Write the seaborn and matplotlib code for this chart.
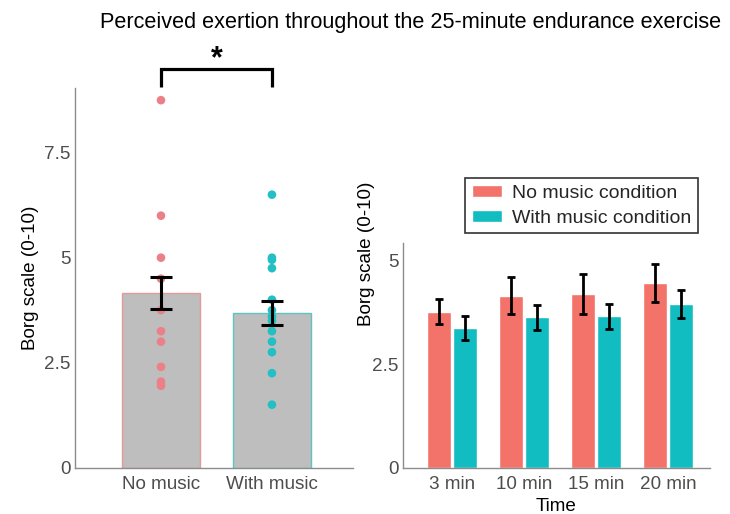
import numpy as np
import pandas as pd
import matplotlib
matplotlib.use("Agg")
import matplotlib.pyplot as plt
import seaborn as sns

# ---- overall condition means (left panel) ----
conditions = ["No music", "With music"]
overall_mean = [4.17, 3.68]
overall_sem = [0.38, 0.28]

# individual participant ratings
no_music_points = [8.75, 6.0, 5.0, 4.5, 3.75, 3.25, 3.0, 2.4, 2.05, 1.95]
with_music_points = [6.5, 5.0, 4.95, 4.75, 4.0, 3.75, 3.6, 3.5, 3.25, 3.0, 2.75, 2.25, 1.5]

# ---- ratings over time (right panel) ----
time_points = ["3 min", "10 min", "15 min", "20 min"]
no_music_time = [3.77, 4.15, 4.20, 4.45]
no_music_time_sem = [0.31, 0.45, 0.48, 0.46]
with_music_time = [3.37, 3.63, 3.66, 3.95]
with_music_time_sem = [0.29, 0.30, 0.30, 0.33]
legend_labels = ["No music condition", "With music condition"]

RED = "#F3736B"
CYAN = "#12BDC2"
DOT_RED = "#EC8088"
DOT_CYAN = "#22BFC4"
GRAY_TXT = "#4D4D4D"
SPINE = "#8C8C8C"

sns.set_theme(style="white")
plt.rcParams["font.family"] = ["Liberation Sans", "DejaVu Sans"]

fig = plt.figure(figsize=(7.3, 5.14), dpi=100)
ax1 = fig.add_axes([0.1027, 0.0901, 0.3808, 0.7387])
ax2 = fig.add_axes([0.552, 0.0901, 0.4205, 0.4366])

FS = 13.6

def style_axes(ax):
    for side in ["top", "right"]:
        ax.spines[side].set_visible(False)
    for side in ["left", "bottom"]:
        ax.spines[side].set_color(SPINE)
        ax.spines[side].set_linewidth(1.0)
    ax.tick_params(axis="both", length=0, labelsize=FS, labelcolor=GRAY_TXT)
    ax.tick_params(axis="y", pad=3)
    ax.tick_params(axis="x", pad=6)

# ---- left panel ----
df_overall = pd.DataFrame({"condition": conditions, "mean": overall_mean})
sns.barplot(data=df_overall, x="condition", y="mean", order=conditions,
            color="#BEBEBE", saturation=1, width=0.70, errorbar=None, ax=ax1)
for bar, ec in zip(ax1.patches, ["#E39A9A", "#5CC4C4"]):
    bar.set_edgecolor(ec)
    bar.set_linewidth(1.0)

df_points = pd.DataFrame({
    "condition": ["No music"] * len(no_music_points) + ["With music"] * len(with_music_points),
    "rating": no_music_points + with_music_points,
})
sns.stripplot(data=df_points, x="condition", y="rating", order=conditions,
              hue="condition", palette={"No music": DOT_RED, "With music": DOT_CYAN},
              jitter=False, size=6.2, linewidth=0, legend=False, zorder=3, ax=ax1)

ax1.errorbar([0, 1], overall_mean, yerr=overall_sem, fmt="none", ecolor="black",
             elinewidth=2.2, capsize=8, capthick=2.2, zorder=4)

ax1.set_xlim(-0.775, 1.73)
ax1.set_ylim(0, 9.04)
ax1.set_yticks([0, 2.5, 5, 7.5])
ax1.set_yticklabels(["0", "2.5", "5", "7.5"])
ax1.set_xlabel("")
ax1.set_ylabel("Borg scale (0-10)", fontsize=FS, color="black")
ax1.yaxis.set_label_coords(-0.13, 0.5)
style_axes(ax1)

# significance bracket
ax1.plot([0, 0, 1, 1], [9.07, 9.49, 9.49, 9.07], color="black", lw=2.3,
         clip_on=False, solid_joinstyle="miter", solid_capstyle="butt")
ax1.text(0.5, 9.72, "*", ha="center", va="center", fontsize=22,
         fontweight="bold", color="black", clip_on=False)

# ---- right panel ----
df_time = pd.DataFrame({
    "time": time_points * 2,
    "rating": no_music_time + with_music_time,
    "condition": [legend_labels[0]] * 4 + [legend_labels[1]] * 4,
})
sns.barplot(data=df_time, x="time", y="rating", hue="condition", order=time_points,
            hue_order=legend_labels, palette=[RED, CYAN], saturation=1,
            width=0.72, gap=0.1, errorbar=None, ax=ax2)

for container, sems, means in zip(ax2.containers,
                                  [no_music_time_sem, with_music_time_sem],
                                  [no_music_time, with_music_time]):
    xs = [b.get_x() + b.get_width() / 2 for b in container]
    ax2.errorbar(xs, means, yerr=sems, fmt="none", ecolor="black",
                 elinewidth=2.0, capsize=3, capthick=2.0, zorder=4)

ax2.set_xlim(-0.68, 3.58)
ax2.set_ylim(0, 5.42)
ax2.set_yticks([0, 2.5, 5])
ax2.set_yticklabels(["0", "2.5", "5"])
ax2.set_xlabel("Time", fontsize=FS, color="black", labelpad=3.5)
ax2.set_ylabel("Borg scale (0-10)", fontsize=FS, color="black")
ax2.yaxis.set_label_coords(-0.09, 0.953)
style_axes(ax2)

leg = ax2.legend(loc="upper right", bbox_to_anchor=(0.961, 1.291), fontsize=14,
                 frameon=True, fancybox=False, edgecolor="black",
                 handlelength=1.55, handleheight=0.6, handletextpad=0.5,
                 borderpad=0.35, labelspacing=0.4, borderaxespad=0)
leg.get_frame().set_linewidth(1.2)
leg.get_frame().set_facecolor("white")

fig.text(0.562, 0.956, "Perceived exertion throughout the 25-minute endurance exercise",
         ha="center", va="center", fontsize=15.6, color="black")

fig.savefig("out.png", dpi=100)
